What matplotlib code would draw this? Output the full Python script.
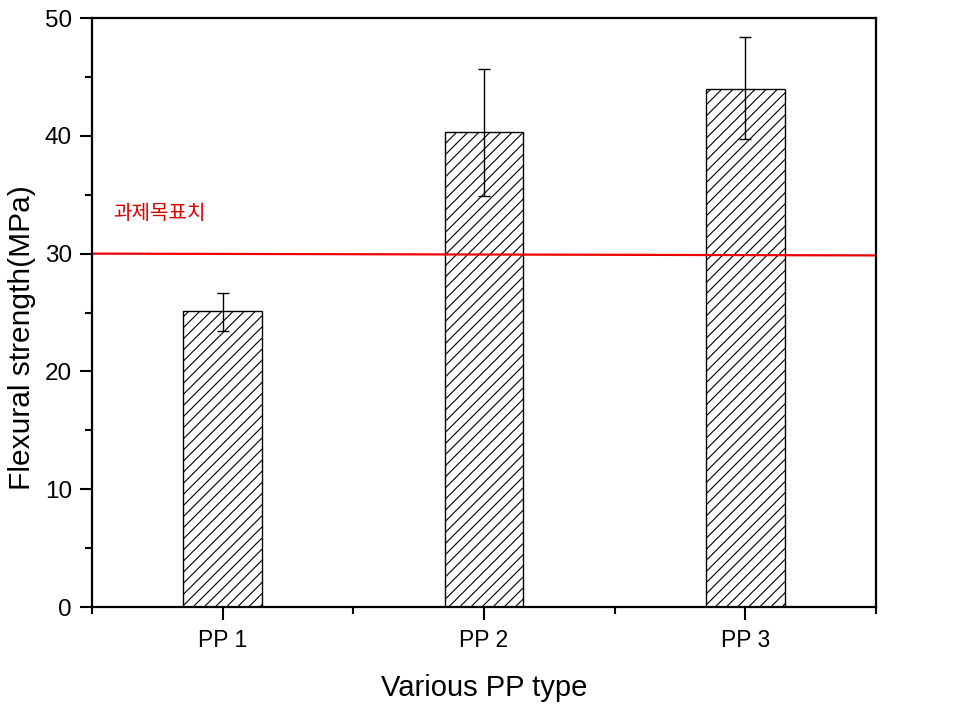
import matplotlib
matplotlib.use("Agg")
import matplotlib.pyplot as plt
from matplotlib.ticker import MultipleLocator, FixedLocator

categories = ["PP 1", "PP 2", "PP 3"]
values = [25.1, 40.3, 44.0]
err_low = [23.4, 34.9, 39.7]
err_high = [26.7, 45.7, 48.4]
target_y = [30.0, 29.85]
target_label = "과제목표치"

plt.rcParams['font.family'] = ['Liberation Sans', 'DejaVu Sans']
plt.rcParams['hatch.linewidth'] = 0.8

fig = plt.figure(figsize=(9.62, 7.07), dpi=100)
ax = fig.add_axes([0.0956, 0.1414, 0.815, 0.8331])

x = [1, 2, 3]
yerr = [[v - l for v, l in zip(values, err_low)], [h - v for v, h in zip(values, err_high)]]
ax.bar(x, values, width=0.3, color='white', edgecolor='black', linewidth=1.0, hatch='///')
ax.errorbar(x, values, yerr=yerr, fmt='none', ecolor='black', elinewidth=1.0, capsize=4.5, capthick=1.0)

ax.plot([0.5, 3.5], target_y, color='#ee0000', linewidth=1.6)
ax.text(0.58, 33.4, target_label, color='#dd0000', fontsize=14.5,
        family=['Noto Sans CJK KR', 'DejaVu Sans'], va='center', ha='left')

ax.set_xlim(0.5, 3.5)
ax.set_ylim(0, 50)
ax.set_xticks(x)
ax.set_xticklabels(categories)
ax.xaxis.set_minor_locator(FixedLocator([0.5, 1.5, 2.5, 3.5]))
ax.yaxis.set_major_locator(MultipleLocator(10))
ax.yaxis.set_minor_locator(MultipleLocator(5))

ax.tick_params(which='major', direction='out', length=9, width=1.5, top=False, right=False)
ax.tick_params(which='minor', direction='out', length=5, width=1.5, top=False, right=False)
ax.tick_params(axis='x', which='major', pad=7, labelsize=16.5)
ax.tick_params(axis='y', which='major', pad=5.5, labelsize=17.5)
for s in ax.spines.values():
    s.set_linewidth(1.6)

ax.set_xlabel("Various PP type", fontsize=21, labelpad=16)
ax.set_ylabel("Flexural strength(MPa)", fontsize=21.5)
ax.yaxis.set_label_coords(-0.072, 0.458)

fig.savefig("out.png", dpi=100)
